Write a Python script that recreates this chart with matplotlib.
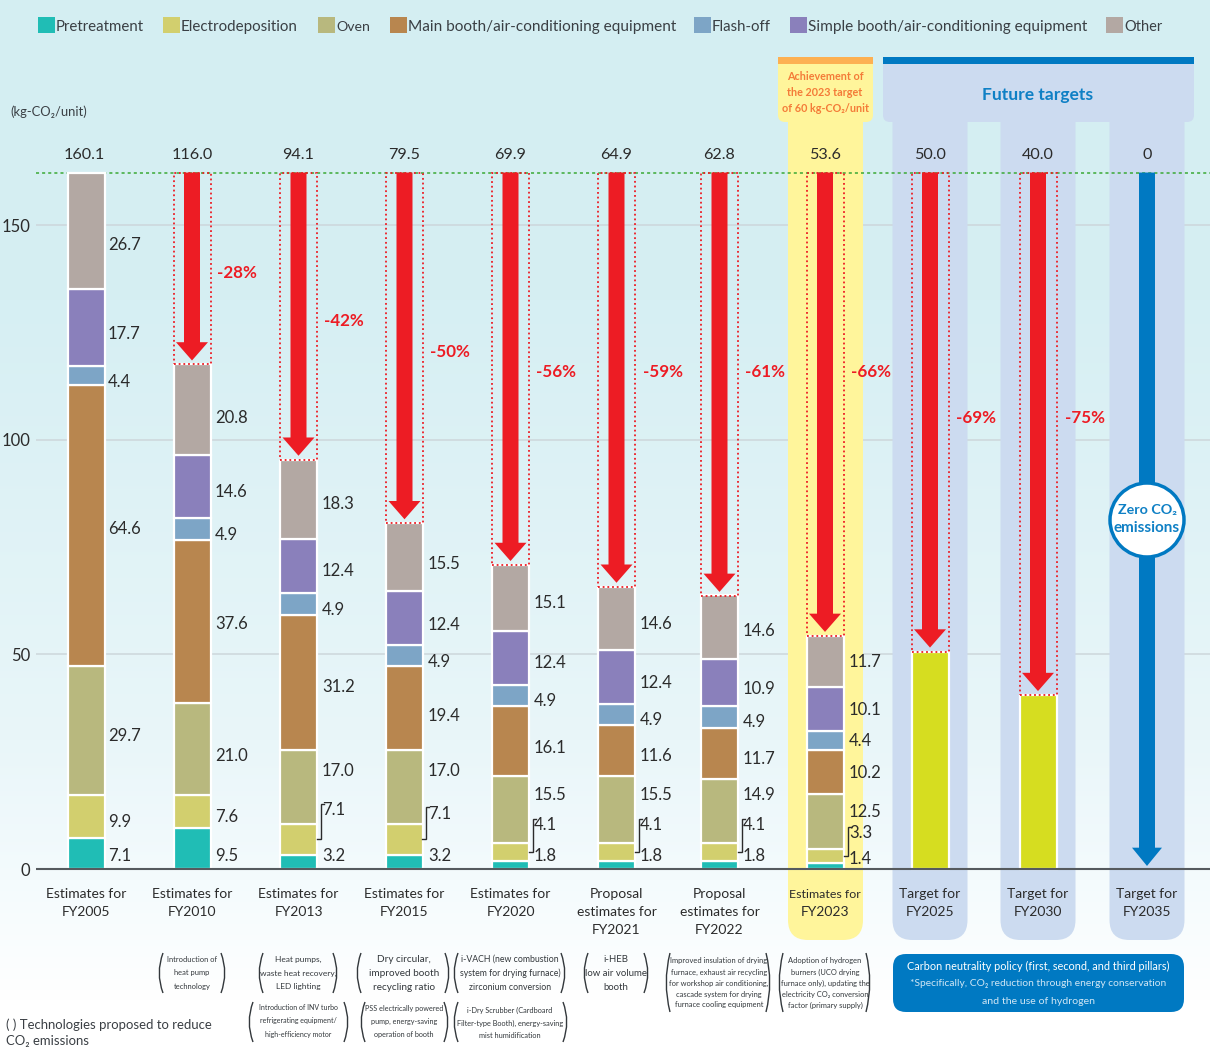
import numpy as np
import matplotlib
matplotlib.use("Agg")
import matplotlib.pyplot as plt
from matplotlib.patches import PathPatch, Rectangle, Circle, FancyBboxPatch, Polygon
from matplotlib.path import Path

FONT = ['Lato', 'Noto Sans', 'DejaVu Sans']
plt.rcParams['font.family'] = FONT

# ---------- data ----------
legend_labels = ['Pretreatment', 'Electrodeposition', 'Oven', 'Main booth/air-conditioning equipment',
                 'Flash-off', 'Simple booth/air-conditioning equipment', 'Other']
categories = ['Estimates for\nFY2005', 'Estimates for\nFY2010', 'Estimates for\nFY2013', 'Estimates for\nFY2015',
              'Estimates for\nFY2020', 'Proposal\nestimates for\nFY2021', 'Proposal\nestimates for\nFY2022',
              'Estimates for\nFY2023', 'Target for\nFY2025', 'Target for\nFY2030', 'Target for\nFY2035']
pretreatment = [7.1, 9.5, 3.2, 3.2, 1.8, 1.8, 1.8, 1.4]
electrodeposition = [9.9, 7.6, 7.1, 7.1, 4.1, 4.1, 4.1, 3.3]
oven = [29.7, 21.0, 17.0, 17.0, 15.5, 15.5, 14.9, 12.5]
main_booth = [64.6, 37.6, 31.2, 19.4, 16.1, 11.6, 11.7, 10.2]
flash_off = [4.4, 4.9, 4.9, 4.9, 4.9, 4.9, 4.9, 4.4]
simple_booth = [17.7, 14.6, 12.4, 12.4, 12.4, 12.4, 10.9, 10.1]
other = [26.7, 20.8, 18.3, 15.5, 15.1, 14.6, 14.6, 11.7]
totals = [160.1, 116.0, 94.1, 79.5, 69.9, 64.9, 62.8, 53.6, 50.0, 40.0, 0]
total_labels = ['160.1', '116.0', '94.1', '79.5', '69.9', '64.9', '62.8', '53.6', '50.0', '40.0', '0']
reductions = ['-28%', '-42%', '-50%', '-56%', '-59%', '-61%', '-66%', '-69%', '-75%']
y_ticks = [0, 50, 100, 150]
series = [pretreatment, electrodeposition, oven, main_booth, flash_off, simple_booth, other]

# ---------- layout / style ----------
W, H = 1210, 1048
BASE = 869
SCALE = 4.35        # px per unit of the bars
TICK_SCALE = 4.293  # px per unit of the printed axis
XC = [86, 192, 298.5, 404.5, 510.5, 616.5, 719.5, 825, 930, 1038, 1147]
BW = 37
colors = ['#20bdb5', '#d2cf6e', '#b8b87e', '#b8864f', '#7da5c6', '#8a80bb', '#b3a8a3']
RED, BLUE, YEL, PALE = '#ed1c24', '#0079c2', '#fff59b', '#ccdbf0'
TXT = '#2b2b2b'
FS = 12

fig = plt.figure(figsize=(W/100, H/100), dpi=100)
renderer = fig.canvas.get_renderer()

def fit(objs, target):
    """Scale the font of the text objects so that the widest one spans `target` pixels."""
    widest = max(o.get_window_extent(renderer).width for o in objs)
    for o in objs:
        o.set_fontsize(o.get_fontsize() * target / widest)
    return objs

def px_axes(z):
    a = fig.add_axes([0, 0, 1, 1], zorder=z)
    a.set_xlim(0, W); a.set_ylim(H, 0); a.axis('off')
    return a

# background
bg = px_axes(0)
rows = np.arange(H)
stops_y = [0, 300, 740, 880, 1000, 1048]
stops = np.array([[0xd4, 0xee, 0xf2], [0xd6, 0xef, 0xf3], [0xe9, 0xf6, 0xf9],
                  [0xf4, 0xfb, 0xfd], [0xff, 0xff, 0xff], [0xff, 0xff, 0xff]]) / 255
grad = np.stack([np.interp(rows, stops_y, stops[:, i]) for i in range(3)], axis=1)[:, None, :]
bg.imshow(grad, extent=(0, W, H, 0), aspect='auto', interpolation='bilinear')
bg.set_xlim(0, W); bg.set_ylim(H, 0)

# printed axis with grid
ax_t = fig.add_axes([36/W, 0, 1-36/W, 1], zorder=1)
ax_t.patch.set_alpha(0)
ax_t.set_ylim(-(H-BASE)/TICK_SCALE, BASE/TICK_SCALE)
ax_t.set_xlim(36, W)
ax_t.set_xticks([])
ax_t.set_yticks(y_ticks)
ax_t.set_yticklabels([str(v) for v in y_ticks], fontsize=FS, color=TXT)
ax_t.tick_params(axis='y', length=0, pad=4)
for s in ax_t.spines.values():
    s.set_visible(False)
ax_t.grid(axis='y', color='#cdd6db', lw=1.1)

def round_bottom(x0, x1, y0, y1, r):
    v = [(x0, y0), (x1, y0), (x1, y1-r), (x1, y1), (x1-r, y1), (x0+r, y1), (x0, y1), (x0, y1-r), (x0, y0)]
    c = [Path.MOVETO, Path.LINETO, Path.LINETO, Path.CURVE3, Path.CURVE3, Path.LINETO, Path.CURVE3, Path.CURVE3, Path.CLOSEPOLY]
    return Path(v, c)

# bands
band = px_axes(2)
band.patch.set_alpha(0)
for c in XC[8:]:
    band.add_patch(PathPatch(round_bottom(c-37.5, c+37.5, 100, 940, 20), fc=PALE, ec='none'))
band.add_patch(PathPatch(round_bottom(883, 1194, 57, 122, 7), fc=PALE, ec='none'))
top_y = BASE - totals[0]*SCALE
band.plot([36, W], [top_y, top_y], color='#3aa935', lw=1.1, ls=(0, (2, 2)))
band.add_patch(PathPatch(round_bottom(788, 863, 100, 940, 20), fc=YEL, ec='none'))
band.add_patch(PathPatch(round_bottom(778, 873, 57, 122, 7), fc=YEL, ec='none'))
band.add_patch(Rectangle((778, 57), 95, 7, fc='#fdb052', ec='none'))
band.add_patch(Rectangle((883, 57), 311, 7, fc=BLUE, ec='none'))

# bars and arrows in data scale
ax = fig.add_axes([0, 0, 1, 1], zorder=3)
ax.patch.set_alpha(0)
ax.axis('off')
ax.set_xlim(0, W)
ax.set_ylim(-(H-BASE)/SCALE, BASE/SCALE)
bottoms = np.zeros(8)
for vals, col in zip(series, colors):
    ax.bar(XC[:8], vals, width=BW, bottom=bottoms, color=col, edgecolor='white', linewidth=1.6)
    bottoms += np.array(vals)
ax.bar(XC[8:10], totals[8:10], width=BW, color='#d6dd20', edgecolor='white', linewidth=1.6)
ax.plot([36, W], [0, 0], color='#555a5e', lw=1.5, solid_capstyle='butt')

def arrow(x, y_end, col, sw=8, hw=16, hl=4.2):
    y_tip = y_end
    ax.add_patch(Polygon([(x-sw, totals[0]), (x+sw, totals[0]), (x+sw, y_tip+hl), (x+hw, y_tip+hl),
                          (x, y_tip), (x-hw, y_tip+hl), (x-sw, y_tip+hl)], fc=col, ec='none', zorder=5))

for x, t in zip(XC[1:10], totals[1:10]):
    ax.add_patch(Rectangle((x-BW/2, t), BW, totals[0]-t, fc='none', ec=RED, lw=1.3, ls=(0, (1, 1.6)), zorder=4))
    arrow(x, t+0.9, RED)
arrow(XC[10], 0.7, BLUE, sw=8, hw=15)

# text layer
tx = px_axes(4)
tx.patch.set_alpha(0)
C2 = '#3a3f44'

# legend
leg_x = [38, 163, 318, 390, 694, 790, 1106]
leg_w = [88, 117, 34, 267, 59, 278, 38]
for x, lab, col, w in zip(leg_x, legend_labels, colors, leg_w):
    tx.add_patch(Rectangle((x, 17), 17, 16, fc=col, ec='none'))
    fit([tx.text(x+18, 27, lab, ha='left', va='center', color=C2, fontsize=FS)], w)

fit([tx.text(10, 112, '(kg-CO₂/unit)', ha='left', va='center', color=C2, fontsize=10)], 77)
for x, s in zip(XC, total_labels):
    tx.text(x - (2 if x == XC[0] else 0), 155, s, ha='center', va='center', color=TXT, fontsize=11.6)
for x, s in zip(XC, categories):
    for i, line in enumerate(s.split('\n')):
        t = tx.text(x, 894 + 18*i, line, ha='center', va='center', color=TXT, fontsize=10)
        if x == XC[7] and i == 0:
            fit([t], 72)

# value labels
lab_x = [108, 215, 322, 428, 534, 640, 743, 849]
lab_y = [[855, 821, 735, 528, 381, 333, 244],
         [855, 816, 755, 623, 534, 491, 417],
         [855, 809, 770, 686, 609, 570, 503],
         [855, 813, 770, 715, 661, 624, 563],
         [855, 824, 794, 747, 700, 662, 602],
         [855, 824, 794, 755, 719, 682, 623],
         [855, 824, 794, 758, 721, 688, 630],
         [858, 832, 811, 772, 740, 709, 661]]
for b in range(8):
    for s in range(7):
        tx.text(lab_x[b], lab_y[b][s] + 1, f'{series[s][b]:.1f}', ha='left', va='center', color=TXT, fontsize=FS)

# brackets
brackets = {2: (321, 804, 839), 3: (426, 807, 839), 4: (533, 819, 852), 5: (639, 819, 852), 6: (742, 819, 852), 7: (848, 827, 856)}
for b, (x, y0, y1) in brackets.items():
    tx.plot([x+3, x, x, x-4], [y0, y0, y1, y1], color=TXT, lw=1, solid_joinstyle='miter')

# reductions
red_pos = [(237, 273), (344, 321), (450, 352), (556, 372), (663, 372), (765, 372), (871, 372), (976, 418), (1085, 418)]
for (x, y), s in zip(red_pos, reductions):
    fit([tx.text(x, y, s, ha='center', va='center', color=RED, fontsize=FS, fontweight='bold')], 40)

# header text
hdr = [tx.text(825, y, s, ha='center', va='center', color='#f47b38', fontsize=9, fontweight='bold')
       for y, s in zip([77, 93, 109], ['Achievement of', 'the 2023 target', 'of 60 kg-CO₂/unit'])]
fit(hdr, 87)
fit([tx.text(1038, 95, 'Future targets', ha='center', va='center', color='#0f80c5', fontsize=13, fontweight='bold')], 111)

# zero circle
tx.add_patch(Circle((1147, 520), 37, fc='white', ec=BLUE, lw=2.5))
fit([tx.text(1147, 510, 'Zero CO₂', ha='center', va='center', color='#0f80c5', fontsize=11, fontweight='bold')], 59)
fit([tx.text(1147, 528, 'emissions', ha='center', va='center', color='#0f80c5', fontsize=11, fontweight='bold')], 66)

# technologies
def parens(x0, x1, y0, y1):
    for x, sgn in ((x0, 1), (x1, -1)):
        p = Path([(x+sgn*5, y0), (x-sgn*2.5, (y0+y1)/2), (x+sgn*5, y1)], [Path.MOVETO, Path.CURVE3, Path.CURVE3])
        tx.add_patch(PathPatch(p, fc='none', ec='#33383c', lw=1))

tech = [
    (192, 158, 226, 953, 993, 50, [959, 973, 987], ['Introduction of', 'heat pump', 'technology']),
    (298, 258, 338, 953, 993, 76, [959, 973, 987], ['Heat pumps,', 'waste heat recovery,', 'LED lighting']),
    (404, 356, 450, 953, 993, 70, [959, 973, 987], ['Dry circular,', 'improved booth', 'recycling ratio']),
    (510, 453, 566, 953, 993, 100, [959, 973, 987], ['i-VACH (new combustion', 'system for drying furnace)', 'zirconium conversion']),
    (616, 583, 649, 953, 993, 62, [959, 973, 987], ['i-HEB', 'low air volume', 'booth']),
    (719, 665, 771, 953, 1012, 98, [960, 972, 983, 994, 1005], ['Improved insulation of drying', 'furnace, exhaust air recycling', 'for workshop air conditioning,', 'cascade system for drying', 'furnace cooling equipment']),
    (825, 778, 871, 953, 1012, 88, [960, 972, 983, 994, 1005], ['Adoption of hydrogen', 'burners (UCO drying', 'furnace only), updating the', 'electricity CO₂ conversion', 'factor (primary supply)']),
    (298, 248, 349, 1002, 1042, 79, [1008, 1021, 1035], ['Introduction of INV turbo', 'refrigerating equipment/', 'high-efficiency motor']),
    (404, 360, 449, 1002, 1042, 78, [1008, 1021, 1035], ['PSS electrically powered', 'pump, energy-saving', 'operation of booth']),
    (510, 453, 568, 1002, 1042, 106, [1010, 1023, 1036], ['i-Dry Scrubber (Cardboard', 'Filter-type Booth), energy-saving', 'mist humidification']),
]
for xc, x0, x1, y0, y1, w, ys, lines in tech:
    parens(x0, x1, y0, y1)
    fit([tx.text(xc, y, s, ha='center', va='center', color='#33383c', fontsize=7) for y, s in zip(ys, lines)], w)

fit([tx.text(6, 1025, '( ) Technologies proposed to reduce', ha='left', va='center', color=C2, fontsize=10)], 207)
fit([tx.text(6, 1041, 'CO₂ emissions', ha='left', va='center', color=C2, fontsize=10)], 83)

# policy box
tx.add_patch(FancyBboxPatch((893, 954), 291, 58, boxstyle='round,pad=0,rounding_size=13', fc=BLUE, ec='none'))
for y, s, c, w in [(966, 'Carbon neutrality policy (first, second, and third pillars)', 'white', 263),
                   (984, '*Specifically, CO₂ reduction through energy conservation', '#cfe6f5', 259),
                   (1002, 'and the use of hydrogen', '#cfe6f5', 112)]:
    fit([tx.text(1038, y, s, ha='center', va='center', color=c, fontsize=9)], w)

fig.savefig('out.png', dpi=100)
